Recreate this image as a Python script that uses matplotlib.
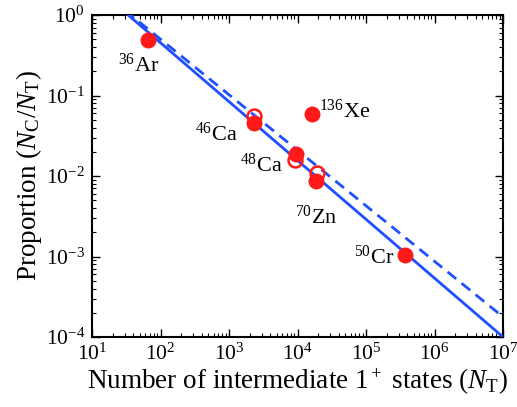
import numpy as np
import matplotlib.pyplot as plt
from matplotlib.ticker import LogLocator, NullFormatter

plt.rcParams['font.family'] = ['Liberation Serif', 'DejaVu Serif']
plt.rcParams['mathtext.fontset'] = 'custom'
plt.rcParams['mathtext.rm'] = 'Liberation Serif'
plt.rcParams['mathtext.it'] = 'Liberation Serif:italic'

# nuclei: N_T and N_C/N_T (filled = full, open = alternative)
nuclei = ['$^{36}$Ar', '$^{46}$Ca', '$^{136}$Xe', '$^{48}$Ca', '$^{70}$Zn', '$^{50}$Cr']
n_t = [66, 2300, 16300, 9500, 18600, 3.7e5]
prop_full = [0.49, 0.0455, 0.059, 0.0188, 0.0087, 0.00105]

open_n_t = [2300, 9300, 19000]
open_prop = [0.056, 0.0158, 0.0109]

# offsets of labels in points
label_off = [(-22, -18), (-42, -8), (5, 2), (-40, -8), (-15, -26), (-37, -2)]

# power-law fits, normalised at N_T = 1e7
fit_slope = -0.731
fit_norm = 1e-4
dash_slope = -0.69
dash_norm = 10 ** -3.75

fig = plt.figure(figsize=(5.17, 4.07), dpi=100)
ax = fig.add_axes([0.178, 0.172, 0.795, 0.791])

xs = np.logspace(1, 7, 200)
ax.plot(xs, fit_norm * (xs / 1e7) ** fit_slope, color='#1f50ff', lw=2, zorder=3)
ax.plot(xs, dash_norm * (xs / 1e7) ** dash_slope, color='#1f50ff', lw=2,
        ls=(0, (4, 2.5)), zorder=3)

ax.plot(n_t, prop_full, 'o', color='#ff1a1a', ms=11.5, mec='none', zorder=4)
ax.plot(open_n_t, open_prop, 'o', mfc='none', mec='#ff1a1a', mew=1.8, ms=10, zorder=4)

for name, x, y, off in zip(nuclei, n_t, prop_full, label_off):
    ax.annotate(name, (x, y), xytext=off, textcoords='offset points',
                fontsize=16, ha='left', va='center')

ax.set_xscale('log')
ax.set_yscale('log')
ax.set_xlim(1e1, 1e7)
ax.set_ylim(1e-4, 1e0)
ax.xaxis.set_major_locator(LogLocator(base=10, numticks=10))
ax.yaxis.set_major_locator(LogLocator(base=10, numticks=10))
ax.xaxis.set_minor_locator(LogLocator(base=10, subs=np.arange(2, 10), numticks=10))
ax.yaxis.set_minor_locator(LogLocator(base=10, subs=np.arange(2, 10), numticks=10))
ax.xaxis.set_minor_formatter(NullFormatter())
ax.yaxis.set_minor_formatter(NullFormatter())

ax.tick_params(which='both', direction='in', top=True, right=True, labelsize=15.5, pad=5)
ax.tick_params(which='major', length=6, width=1)
ax.tick_params(which='minor', length=3, width=0.8)
for s in ax.spines.values():
    s.set_linewidth(1.5)

ax.set_xlabel('Number of intermediate 1$^+$ states ($N_\\mathrm{T}$)', fontsize=19.5, labelpad=1)
ax.set_ylabel('Proportion ($N_\\mathrm{C}/N_\\mathrm{T}$)', fontsize=19.5, labelpad=1)

fig.savefig('out.png', dpi=100)
